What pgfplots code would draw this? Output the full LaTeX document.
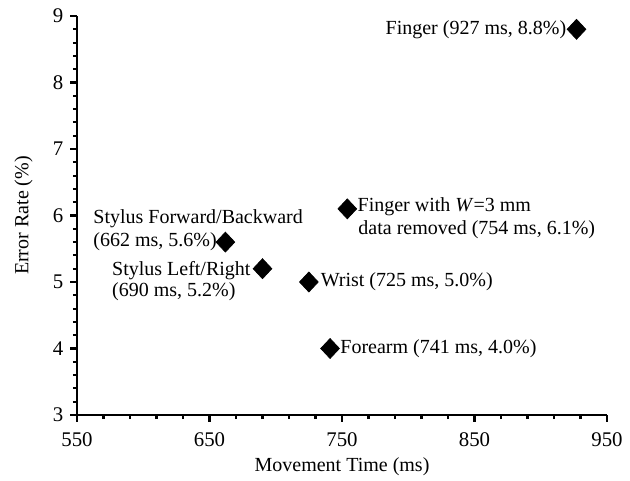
\documentclass[border=0pt]{standalone}
\usepackage{fontspec}
\setmainfont{Liberation Serif}
\usepackage{pgfplots}
\pgfplotsset{compat=1.18}
\begin{document}
\fontsize{12}{14.4}\selectfont
\begin{tikzpicture}
\path[use as bounding box] (0,0) rectangle (378pt,288.6pt);
\begin{axis}[
  at={(46.2pt,39.6pt)}, anchor=south west,
  scale only axis, width=318pt, height=239.4pt,
  xmin=550, xmax=950, ymin=3, ymax=9,
  xtick={550,650,750,850,950}, ytick={3,4,5,6,7,8,9},
  minor x tick num=4, minor y tick num=4,
  axis x line*=bottom, axis y line*=left,
  every outer x axis line/.append style={-, line width=1.6pt, black},
  every outer y axis line/.append style={-, line width=1.6pt, black},
  every inner x axis line/.append style={-, line width=1.6pt, black},
  every inner y axis line/.append style={-, line width=1.6pt, black},
  every tick/.append style={black, line width=1.3pt},
  tick align=outside,
  major tick length=4pt, minor tick length=2.5pt,
  /pgf/number format/assume math mode=true,
  tick label style={font=\fontsize{12.5}{14.4}\selectfont},
  xticklabel style={yshift=-2.5pt},
  every axis x label/.style={at={(axis description cs:0.5,0)}, yshift=-31pt, anchor=center, font=\fontsize{12}{14.4}\selectfont},
  every axis y label/.style={at={(axis description cs:0,0.5)}, xshift=-32pt, anchor=center, rotate=90, font=\fontsize{12}{14.4}\selectfont},
  xlabel={Movement Time (ms)},
  ylabel={Error Rate (\%)},
  clip=false,
]
\addplot[only marks, mark=diamond*, mark size=6pt, mark options={fill=black, draw=black, xscale=1.25}]
  coordinates {(927,8.8) (754,6.1) (662,5.6) (690,5.2) (725,5.0) (741,4.0)};

\begin{scope}[every node/.style={inner sep=0pt, font=\fontsize{12}{14.4}\selectfont}]
\node[anchor=east, xshift=-6pt] at (axis cs:927,8.8) {Finger (927 ms, 8.8\%)};
\node[anchor=west, xshift=6pt, yshift=1pt] at (axis cs:754,6.1) {Finger with \textit{W}=3 mm};
\node[anchor=west, xshift=6.5pt, yshift=-12.5pt] at (axis cs:754,6.1) {data removed (754 ms, 6.1\%)};
\node[anchor=east, xshift=-5pt] (sfb) at (axis cs:662,5.6) {(662 ms, 5.6\%)};
\node[anchor=base west] at ([yshift=14pt]sfb.base west) {Stylus Forward/Backward};
\node[anchor=east, xshift=-7pt, yshift=-1pt] (slr) at (axis cs:690,5.2) {Stylus Left/Right};
\node[anchor=base west] at ([yshift=-13pt]slr.base west) {(690 ms, 5.2\%)};
\node[anchor=west, xshift=7pt] at (axis cs:725,5.0) {Wrist (725 ms, 5.0\%)};
\node[anchor=west, xshift=6pt] at (axis cs:741,4.0) {Forearm (741 ms, 4.0\%)};
\end{scope}
\end{axis}
\end{tikzpicture}
\end{document}
